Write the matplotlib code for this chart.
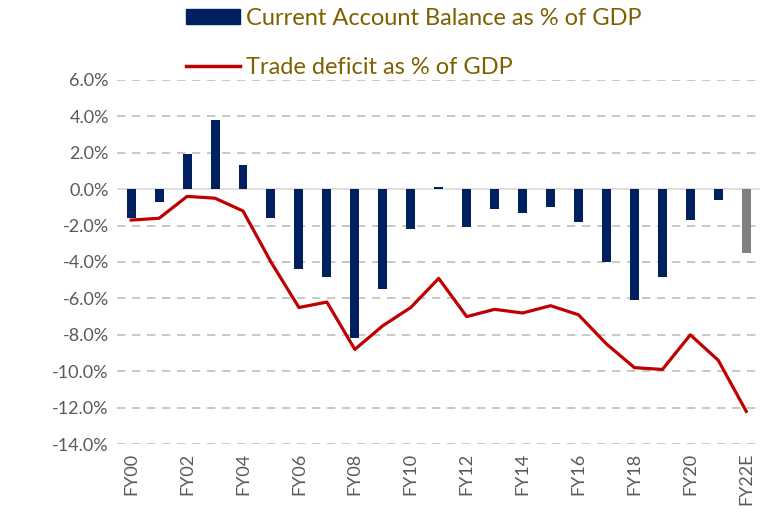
import numpy as np
import matplotlib
matplotlib.use('Agg')
import matplotlib.pyplot as plt
from matplotlib.patches import Patch
from matplotlib.lines import Line2D

years = ['FY00', 'FY01', 'FY02', 'FY03', 'FY04', 'FY05', 'FY06', 'FY07', 'FY08',
         'FY09', 'FY10', 'FY11', 'FY12', 'FY13', 'FY14', 'FY15', 'FY16', 'FY17',
         'FY18', 'FY19', 'FY20', 'FY21', 'FY22E']
cab = [-1.6, -0.7, 1.9, 3.8, 1.3, -1.6, -4.4, -4.8, -8.2, -5.5, -2.2, 0.1,
       -2.1, -1.1, -1.3, -1.0, -1.8, -4.0, -6.1, -4.8, -1.7, -0.6, -3.5]
trade = [-1.7, -1.6, -0.4, -0.5, -1.2, -4.0, -6.5, -6.2, -8.8, -7.5, -6.5, -4.9,
         -7.0, -6.6, -6.8, -6.4, -6.9, -8.5, -9.8, -9.9, -8.0, -9.4, -12.2]
yticks = np.arange(-14, 7, 2)

plt.rcParams['font.family'] = ['Lato', 'DejaVu Sans']

fig = plt.figure(figsize=(7.61, 5.25), dpi=100)
ax = fig.add_axes([0.154, 0.154, 0.845, 0.694])

x = np.arange(len(years))
colors = ['#002060'] * (len(years) - 1) + ['#808080']
ax.bar(x, cab, width=0.32, color=colors, zorder=3)
ax.plot(x, trade, color='#C00000', linewidth=2.3, zorder=4)

ax.set_ylim(-14, 6)
ax.set_xlim(-0.5, len(years) - 0.5)
ax.set_yticks(yticks)
ax.set_yticklabels([f'{v:.1f}%' for v in yticks], fontsize=13, color='#595959')
ax.set_xticks(x[::2])
ax.set_xticklabels(years[::2], rotation=90, fontsize=13, color='#595959')
ax.tick_params(length=0, pad=6)
for s in ax.spines.values():
    s.set_visible(False)
for v in yticks:
    if v == 0:
        ax.axhline(0, color='#D9D9D9', linewidth=1.2, zorder=2)
    else:
        ax.axhline(v, color='#BFBFBF', linewidth=1.2, linestyle=(0, (5, 4)), zorder=1)

handles = [Patch(color='#002060'), Line2D([0], [0], color='#C00000', linewidth=2.5)]
labels = ['Current Account Balance as % of GDP', 'Trade deficit as % of GDP']
leg = fig.legend(handles, labels, loc='upper left', bbox_to_anchor=(186 / 761, 1 - 8 / 525),
                 frameon=False, fontsize=17, labelspacing=1.2, handlelength=2.3,
                 handletextpad=0.25, handleheight=0.6, borderpad=0, borderaxespad=0)
for t in leg.get_texts():
    t.set_color('#7F6000')

fig.savefig('out.png', dpi=100)
